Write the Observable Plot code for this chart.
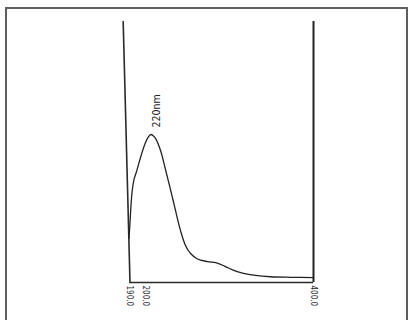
<!DOCTYPE html>
<html>
<head>
<meta charset="utf-8">
<script src="https://cdn.jsdelivr.net/npm/d3@7"></script>
<script src="https://cdn.jsdelivr.net/npm/@observablehq/plot@0.6"></script>
<style>
  html, body { margin: 0; padding: 0; background: #fff; }
  #wrap { position: relative; width: 413px; height: 320px; overflow: hidden; }
  #frame { position: absolute; left: 5px; top: 7px; width: 403px; height: 330px;
           border: 2px solid #5e5e5e; box-sizing: border-box; }
  #chart { position: absolute; left: 0; top: 0; }
  #chart svg text { font-stretch: condensed; }
</style>
</head>
<body>
<div id="wrap"><div id="frame"></div><div id="chart"></div></div>
<script>
// Wavelength (nm) and absorbance (arbitrary units)
const wavelength = [189.35, 190.0, 190.65, 191.3, 192.6, 194.2, 196.8, 200.0, 203.6, 206.5,
  209.5, 211.9, 217.9, 223.8, 229.8, 235.7, 241.7, 247.6, 253.6, 261.9,
  273.8, 284.5, 294.0, 303.6, 315.5, 331.0, 348.8, 372.6, 400.0];
const absorbance = [0.169, 0.230, 0.295, 0.345, 0.395, 0.425, 0.479, 0.536, 0.559, 0.567,
  0.561, 0.552, 0.506, 0.433, 0.356, 0.276, 0.199, 0.142, 0.111, 0.090,
  0.080, 0.075, 0.063, 0.048, 0.036, 0.027, 0.022, 0.020, 0.019];
const tickValues = [190, 200, 400];
const axisScale = [190, 200, 400];          // printed scale is not linear (scan)
const leftAxisX = [185.6, 190];             // slightly skewed left axis of the scan
const leftAxisY = [1, 0];
const peakLabel = [{x: 206.5, y: 0.567, text: "220nm"}];

const spectrum = wavelength.map((w, i) => ({w, a: absorbance[i]}));
const leftAxis = leftAxisX.map((x, i) => ({x, y: leftAxisY[i]}));

const font = "'DejaVu Sans Condensed', 'DejaVu Sans', sans-serif";

const chart = Plot.plot({
  width: 413,
  height: 320,
  marginTop: 21,
  marginBottom: 38,
  marginLeft: 129.5,
  marginRight: 100,
  style: {background: "transparent", fontFamily: font},
  x: {type: "linear", domain: axisScale, range: [129.5, 145, 313]},
  y: {domain: [0, 1], axis: null},
  marks: [
    Plot.axisX({ticks: tickValues, tickFormat: d3.format(".1f"), tickRotate: 90,
      tickSize: 0, tickPadding: 3, fontSize: 8, fill: "#2a2a2a", label: null}),
    Plot.ruleY([0], {x1: 190, x2: 400, stroke: "#2a2a2a", strokeWidth: 1.6}),
    Plot.ruleX([400], {y1: 0, y2: 1, stroke: "#222", strokeWidth: 2}),
    Plot.line(leftAxis, {x: "x", y: "y", stroke: "#2a2a2a", strokeWidth: 1.6}),
    Plot.line(spectrum, {x: "w", y: "a", stroke: "#222", strokeWidth: 1.3, curve: "catmull-rom"}),
    Plot.text(peakLabel, {x: "x", y: "y", text: "text", rotate: -90, textAnchor: "start",
      dx: 5.5, dy: -7, fontSize: 10.5, fill: "#222"})
  ]
});
document.getElementById("chart").append(chart);
</script>
</body>
</html>
